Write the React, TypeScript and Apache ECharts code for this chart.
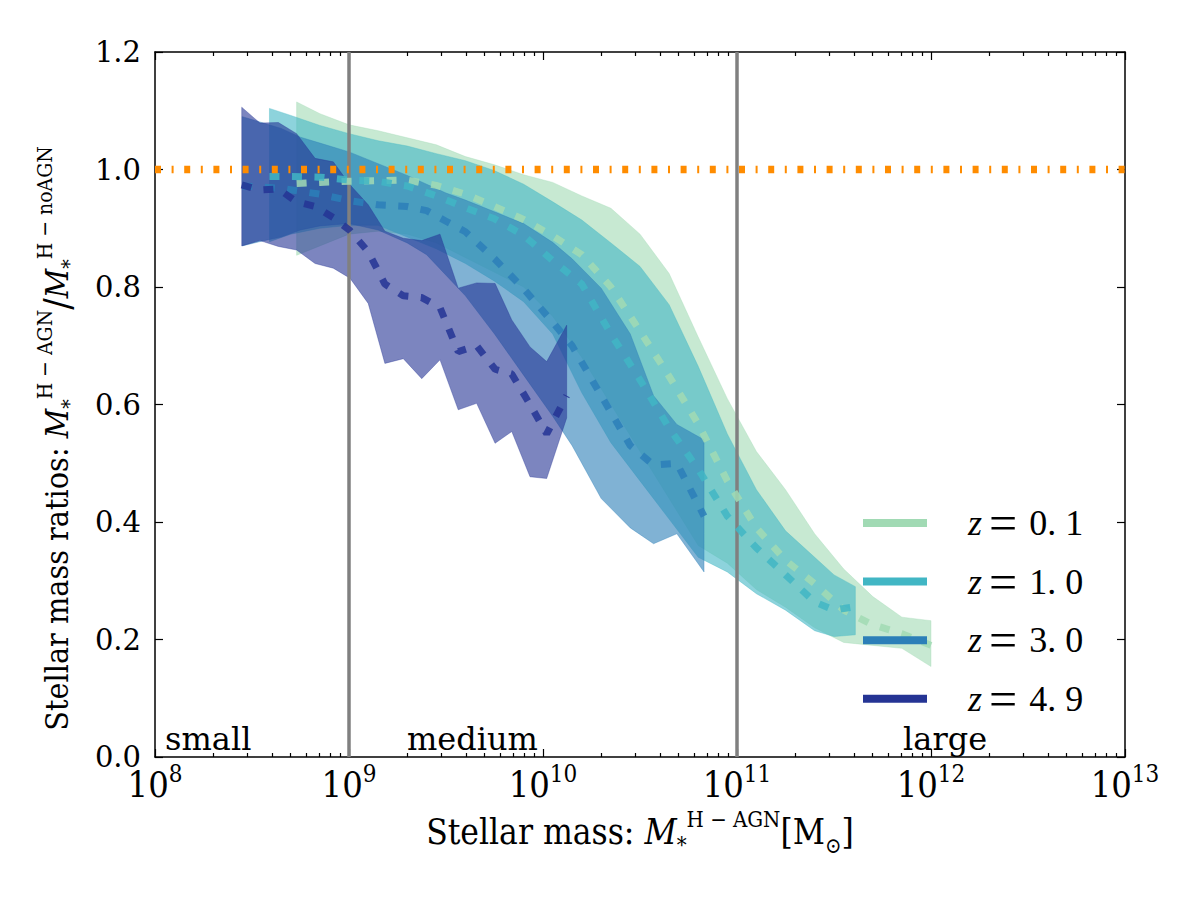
import React, { useEffect, useRef } from "react";
import * as echarts from "echarts";

// x values are log10(M*/Msun)
const z01X = [8.73, 8.85, 9.0, 9.15, 9.3, 9.45, 9.6, 9.75, 9.9, 10.05, 10.2, 10.35, 10.5, 10.65, 10.8, 10.95, 11.1, 11.25, 11.4, 11.55, 11.7, 11.85, 12.0];
const z01Hi = [1.115, 1.095, 1.076, 1.066, 1.054, 1.042, 1.022, 1.008, 0.991, 0.978, 0.955, 0.934, 0.89, 0.823, 0.715, 0.61, 0.52, 0.455, 0.38, 0.32, 0.273, 0.238, 0.232];
const z01Lo = [0.854, 0.87, 0.89, 0.895, 0.89, 0.875, 0.85, 0.825, 0.8, 0.75, 0.68, 0.6, 0.52, 0.44, 0.36, 0.33, 0.285, 0.255, 0.22, 0.195, 0.19, 0.185, 0.154];
const z01Med = [0.976, 0.978, 0.98, 0.981, 0.982, 0.973, 0.958, 0.937, 0.915, 0.887, 0.855, 0.8, 0.725, 0.648, 0.567, 0.47, 0.39, 0.335, 0.295, 0.25, 0.225, 0.21, 0.19];

const z10X = [8.59, 8.7, 8.85, 9.0, 9.15, 9.3, 9.45, 9.6, 9.75, 9.9, 10.05, 10.2, 10.35, 10.5, 10.65, 10.8, 10.95, 11.1, 11.25, 11.4, 11.5, 11.61];
const z10Hi = [1.104, 1.092, 1.075, 1.061, 1.049, 1.04, 1.027, 1.015, 0.998, 0.975, 0.945, 0.914, 0.875, 0.835, 0.77, 0.665, 0.55, 0.455, 0.385, 0.34, 0.31, 0.29];
const z10Lo = [0.877, 0.89, 0.9, 0.905, 0.905, 0.885, 0.865, 0.84, 0.81, 0.775, 0.72, 0.62, 0.535, 0.47, 0.405, 0.34, 0.315, 0.278, 0.25, 0.215, 0.205, 0.208];
const z10Med = [0.988, 0.988, 0.987, 0.982, 0.98, 0.972, 0.955, 0.935, 0.916, 0.888, 0.845, 0.805, 0.72, 0.642, 0.56, 0.49, 0.41, 0.356, 0.31, 0.264, 0.25, 0.256];

const z30X = [8.45, 8.55, 8.65, 8.75, 8.85, 9.0, 9.15, 9.3, 9.4, 9.5, 9.6, 9.75, 9.9, 10.05, 10.15, 10.3, 10.45, 10.57, 10.69, 10.83];
const z30Hi = [1.09, 1.08, 1.07, 1.055, 1.045, 1.03, 1.01, 0.99, 0.975, 0.96, 0.948, 0.928, 0.908, 0.876, 0.848, 0.798, 0.72, 0.615, 0.566, 0.54];
const z30Lo = [0.87, 0.878, 0.885, 0.897, 0.904, 0.908, 0.897, 0.875, 0.855, 0.82, 0.785, 0.72, 0.65, 0.58, 0.53, 0.44, 0.39, 0.363, 0.38, 0.315];
const z30Med = [0.972, 0.97, 0.968, 0.963, 0.958, 0.947, 0.94, 0.937, 0.93, 0.912, 0.894, 0.848, 0.797, 0.74, 0.7, 0.615, 0.53, 0.497, 0.5, 0.41];

const z49X = [8.447, 8.541, 8.636, 8.73, 8.825, 8.919, 9.005, 9.099, 9.185, 9.28, 9.375, 9.469, 9.563, 9.658, 9.753, 9.839, 9.933, 10.019, 10.122];
const z49Hi = [1.106, 1.079, 1.08, 1.061, 1.019, 1.013, 0.974, 0.94, 0.895, 0.883, 0.879, 0.89, 0.798, 0.807, 0.806, 0.744, 0.698, 0.673, 0.735];
const z49Lo = [0.87, 0.879, 0.869, 0.863, 0.84, 0.832, 0.815, 0.772, 0.67, 0.678, 0.644, 0.676, 0.591, 0.602, 0.534, 0.554, 0.477, 0.474, 0.577];
const z49Med = [0.974, 0.965, 0.967, 0.945, 0.937, 0.918, 0.896, 0.86, 0.805, 0.785, 0.782, 0.765, 0.69, 0.7, 0.66, 0.652, 0.6, 0.55, 0.615];

const redshiftLabels = ["0.1", "1.0", "3.0", "4.9"];
const colors = ["#a1dab4", "#41b6c4", "#2c7fb8", "#253494"];

const regionEdges = [9, 11]; // log10 mass of the vertical separators
const refRatio = 1.0;
const regionNames = ["small", "medium", "large"];
const regionX = [8.052, 9.299, 11.856];
const regionY = [0.003, 0.003, 0.003];

const xTickExps = [8, 9, 10, 11, 12, 13];
const yTicks = [0, 0.2, 0.4, 0.6, 0.8, 1.0, 1.2];

const SERIF = "'DejaVu Serif', serif";
const SERIF_C = "'DejaVu Serif Condensed', 'DejaVu Serif', serif";
const MATH = "'Liberation Serif', 'DejaVu Serif', serif";

function rgba(hex: string, a: number) {
  const n = parseInt(hex.slice(1), 16);
  return `rgba(${(n >> 16) & 255},${(n >> 8) & 255},${n & 255},${a})`;
}

const bands = [
  { x: z01X, lo: z01Lo, hi: z01Hi, med: z01Med },
  { x: z10X, lo: z10Lo, hi: z10Hi, med: z10Med },
  { x: z30X, lo: z30Lo, hi: z30Hi, med: z30Med },
  { x: z49X, lo: z49Lo, hi: z49Hi, med: z49Med },
];

const minorTicks: number[] = [];
for (let d = xTickExps[0]; d < xTickExps[xTickExps.length - 1]; d++) {
  for (let k = 2; k <= 9; k++) minorTicks.push(d + Math.log10(k));
}

const seriesNames = redshiftLabels.map((r) => `z=${r}`);

function buildOption(): any {
  const axisLineStyle = { color: "#000", width: 1.5 };
  const tickStyle = { color: "#000", width: 1.2 };
  const xBase = {
    type: "value",
    min: xTickExps[0],
    max: xTickExps[xTickExps.length - 1],
    splitLine: { show: false },
  };
  const yBase = {
    type: "value",
    min: yTicks[0],
    max: yTicks[yTicks.length - 1],
    interval: 0.2,
    splitLine: { show: false },
  };

  const bandSeries = bands.map((b, i) => ({
    type: "custom",
    name: `band${i}`,
    coordinateSystem: "cartesian2d",
    silent: true,
    z: 1,
    data: [[b.x[0], b.lo[0]]],
    renderItem: (_params: any, api: any) => {
      const pts: number[][] = [];
      for (let k = 0; k < b.x.length; k++) pts.push(api.coord([b.x[k], b.hi[k]]));
      for (let k = b.x.length - 1; k >= 0; k--) pts.push(api.coord([b.x[k], b.lo[k]]));
      return {
        type: "polygon",
        shape: { points: pts },
        style: { fill: rgba(colors[i], 0.6), stroke: rgba(colors[i], 0.35), lineWidth: 1 },
      };
    },
  }));

  const medianSeries = bands.map((b, i) => ({
    type: "line",
    name: seriesNames[i],
    color: colors[i],
    z: 3,
    silent: true,
    showSymbol: false,
    symbol: "none",
    data: b.x.map((x, k) => [x, b.med[k]]),
    lineStyle: { color: colors[i], width: 7, type: [10, 12.5], cap: "butt", opacity: 0.85 },
  }));

  const vlineSeries = regionEdges.map((e) => ({
    type: "line",
    z: 2,
    silent: true,
    symbol: "none",
    data: [
      [e, yTicks[0]],
      [e, yTicks[yTicks.length - 1]],
    ],
    lineStyle: { color: "#808080", width: 3.5 },
  }));

  const refSeries = {
    type: "line",
    z: 4,
    silent: true,
    symbol: "none",
    data: [
      [xTickExps[0], refRatio],
      [xTickExps[xTickExps.length - 1], refRatio],
    ],
    lineStyle: { color: "#ff8c00", width: 7.5, type: [6, 10.6, 2, 10.6], cap: "butt" },
  };

  const regionSeries = {
    type: "custom",
    coordinateSystem: "cartesian2d",
    z: 5,
    silent: true,
    data: regionNames.map((_n, i) => [regionX[i], regionY[i]]),
    renderItem: (params: any, api: any) => {
      const p = api.coord([api.value(0), api.value(1)]);
      return {
        type: "text",
        x: p[0],
        y: p[1],
        style: {
          text: regionNames[params.dataIndex],
          fill: "#000",
          font: `32px ${SERIF}`,
          textAlign: "left",
          textVerticalAlign: "bottom",
        },
      };
    },
  };

  const mkSubSup = (fs: number, ss: number) => ({
    m: { fontFamily: SERIF_C, fontStyle: "italic", fontSize: fs, color: "#000", lineHeight: fs + 13 },
    t: { fontFamily: SERIF_C, fontSize: fs, color: "#000", lineHeight: fs + 13 },
    sl: { fontFamily: SERIF_C, fontSize: fs + 6, color: "#000", lineHeight: fs + 13 },
    sp: { fontFamily: SERIF_C, fontSize: ss, color: "#000", verticalAlign: "top", lineHeight: ss },
    sb: { fontFamily: SERIF_C, fontSize: ss, color: "#000", verticalAlign: "bottom", lineHeight: ss },
  });

  return {
    animation: false,
    backgroundColor: "#fff",
    grid: { left: 155, right: 75, top: 52, bottom: 143, containLabel: false, outerBoundsMode: "none" },
    legend: {
      orient: "vertical",
      left: 863,
      top: 498,
      padding: 0,
      itemWidth: 64,
      itemHeight: 8,
      itemGap: 8.6,
      icon: "rect",
      selectedMode: false,
      data: seriesNames.map((n, i) => ({ name: n, icon: "rect", itemStyle: { color: colors[i], opacity: 1, borderWidth: 0 } })),
      formatter: (name: string) => {
        const v = name.split("=")[1].replace(".", ". ");
        return `{g| }{i|z}{e|=}{n|${v}}`;
      },
      textStyle: {
        fontFamily: MATH,
        fontSize: 34,
        lineHeight: 34,
        color: "#000",
        rich: {
          g: { width: 36, fontSize: 34, lineHeight: 34 },
          i: { fontFamily: MATH, fontStyle: "italic", fontSize: 36, lineHeight: 34, color: "#000" },
          e: { fontFamily: MATH, fontSize: 50, lineHeight: 34, color: "#000", padding: [0, 12, 0, 7] },
          n: { fontFamily: MATH, fontSize: 36, lineHeight: 34, color: "#000" },
        },
      },
    },
    xAxis: [
      {
        ...xBase,
        interval: 1,
        position: "bottom",
        axisLine: { show: true, onZero: false, lineStyle: axisLineStyle },
        axisTick: { show: true, inside: true, length: 8, lineStyle: tickStyle },
        axisLabel: {
          show: true,
          margin: 5,
          color: "#000",
          formatter: (v: number) => `{b|10}{s|${Math.round(v)}}`,
          rich: {
            b: { fontFamily: SERIF_C, fontSize: 36, color: "#000", lineHeight: 44 },
            s: { fontFamily: SERIF_C, fontSize: 24, color: "#000", verticalAlign: "top", lineHeight: 24 },
          },
        },
        name: "Stellar mass: {m|M}{sb|*}{sp|H − AGN}{t|[M}{sb|⊙}{t|]}",
        nameLocation: "middle",
        nameGap: 51,
        nameTextStyle: { fontFamily: SERIF_C, fontSize: 35, color: "#000", lineHeight: 48, rich: mkSubSup(35, 22) },
      },
      {
        ...xBase,
        position: "bottom",
        axisLine: { show: false, onZero: false },
        axisTick: { show: true, inside: true, length: 4, lineStyle: tickStyle, customValues: minorTicks },
        axisLabel: { show: false },
      },
      {
        ...xBase,
        interval: 1,
        position: "top",
        axisLine: { show: true, onZero: false, lineStyle: axisLineStyle },
        axisTick: { show: true, inside: true, length: 8, lineStyle: tickStyle },
        axisLabel: { show: false },
      },
      {
        ...xBase,
        position: "top",
        axisLine: { show: false, onZero: false },
        axisTick: { show: true, inside: true, length: 4, lineStyle: tickStyle, customValues: minorTicks },
        axisLabel: { show: false },
      },
    ],
    yAxis: [
      {
        ...yBase,
        position: "left",
        axisLine: { show: true, onZero: false, lineStyle: axisLineStyle },
        axisTick: { show: true, inside: true, length: 8, lineStyle: tickStyle },
        axisLabel: {
          show: true,
          margin: 14,
          color: "#000",
          fontFamily: SERIF,
          fontSize: 29,
          formatter: (v: number) => v.toFixed(1),
        },
        name: "Stellar mass ratios: {m|M}{sb|*}{sp|H − AGN}{sl|/}{m|M}{sb|*}{sp|H − noAGN}",
        nameLocation: "middle",
        nameRotate: 90,
        nameGap: 76,
        nameTextStyle: {
          fontFamily: SERIF_C,
          fontSize: 32,
          color: "#000",
          lineHeight: 45,
          padding: [0, 68, 0, 0],
          rich: mkSubSup(32, 21),
        },
      },
      {
        ...yBase,
        position: "right",
        axisLine: { show: true, onZero: false, lineStyle: axisLineStyle },
        axisTick: { show: true, inside: true, length: 8, lineStyle: tickStyle },
        axisLabel: { show: false },
      },
    ],
    series: [...bandSeries, ...vlineSeries, ...medianSeries, refSeries, regionSeries],
  };
}

export default function App() {
  const ref = useRef<HTMLDivElement>(null);
  useEffect(() => {
    if (!ref.current) return;
    const chart = echarts.init(ref.current, null, { renderer: "svg" });
    chart.setOption(buildOption());
    return () => chart.dispose();
  }, []);
  return <div ref={ref} style={{ position: "absolute", left: 0, top: 0, width: 1200, height: 900 }} />;
}
